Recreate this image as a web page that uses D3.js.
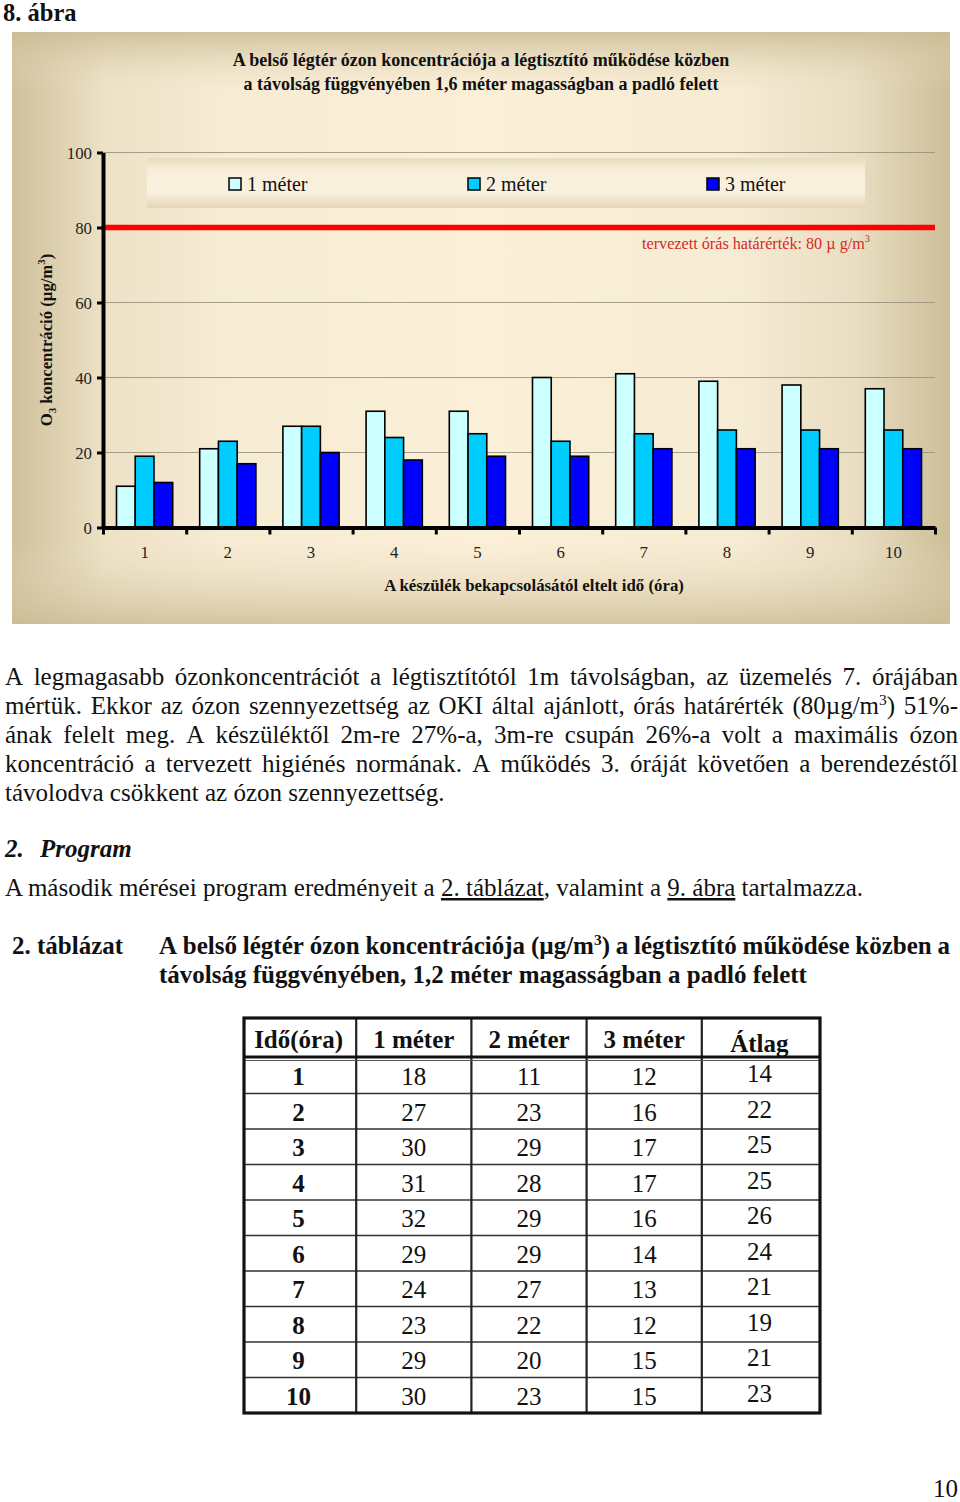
<!DOCTYPE html>
<html><head><meta charset="utf-8">
<script src="https://cdn.jsdelivr.net/npm/d3@7"></script>
<style>
html,body{margin:0;padding:0;background:#fff;}
svg{display:block;font-family:"Liberation Serif","Times New Roman",serif;}
</style></head>
<body>
<script>
// ---------- DATA ----------
const hours = [1,2,3,4,5,6,7,8,9,10];
const seriesNames = ["1 méter","2 méter","3 méter"];
const meter1 = [11,21,27,31,31,40,41,39,38,37];
const meter2 = [19,23,27,24,25,23,25,26,26,26];
const meter3 = [12,17,20,18,19,19,21,21,21,21];
const yTickValues = [0,20,40,60,80,100];
const limitValue = 80;
const seriesColors = ["#ccffff","#00ccff","#0000ff"];

const tableHeader = ["Idő(óra)","1 méter","2 méter","3 méter","Átlag"];
const tab1m = [18,27,30,31,32,29,24,23,29,30];
const tab2m = [11,23,29,28,29,29,27,22,20,23];
const tab3m = [12,16,17,17,16,14,13,12,15,15];
const tabAvg = [14,22,25,25,26,24,21,19,21,23];

const W = 960, H = 1502;
const FF = "Liberation Serif, Times New Roman, serif";
const svg = d3.select("body").append("svg").attr("width", W).attr("height", H).attr("font-family", FF);
svg.append("rect").attr("width", W).attr("height", H).attr("fill", "#fff");

const defs = svg.append("defs");
const gh = defs.append("linearGradient").attr("id","bgH").attr("x1",0).attr("x2",1).attr("y1",0).attr("y2",0);
[[0,"#cfc09b"],[0.1,"#ede2c6"],[0.22,"#f6ebd3"],[0.5,"#fbefd8"],[0.78,"#f6ebd3"],[0.9,"#e9dec2"],[1,"#cdbe98"]]
  .forEach(([o,c])=>gh.append("stop").attr("offset",o).attr("stop-color",c));
const gv = defs.append("linearGradient").attr("id","bgV").attr("x1",0).attr("x2",0).attr("y1",0).attr("y2",1);
[[0,"#cbbb95",0.85],[0.1,"#e8dcc0",0.0],[0.86,"#e8dcc0",0.0],[1,"#cbbb95",0.8]]
  .forEach(([o,c,a])=>gv.append("stop").attr("offset",o).attr("stop-color",c).attr("stop-opacity",a));
const gl = defs.append("linearGradient").attr("id","legG").attr("x1",0).attr("x2",0).attr("y1",0).attr("y2",1);
[[0,"#e9dcbd"],[0.25,"#f8efdb"],[0.7,"#faf1de"],[1,"#e3d5b3"]]
  .forEach(([o,c])=>gl.append("stop").attr("offset",o).attr("stop-color",c));

// ---------- Helpers ----------
function renderWord(t, w, fs){
  // ^x = superscript char, _x = subscript char
  const parts = w.split(/([\^_].)/).filter(s=>s.length);
  let pending = 0;
  parts.forEach(p=>{
    if(p[0]==="^" || p[0]==="_"){
      const s = p[0]==="^" ? -0.38*fs : 0.18*fs;
      t.append("tspan").attr("dy",s).attr("font-size",0.62*fs).text(p[1]);
      pending = s;
    } else {
      const ts = t.append("tspan").text(p);
      if(pending){ ts.attr("dy",-pending); pending = 0; }
    }
  });
}
function drawLine(g, line, x, yb, width, justify, attrs){
  const words = line.split(" ");
  const fs = parseFloat(attrs["font-size"]);
  const nodes = words.map(w=>{
    const t = g.append("text").attr("y", yb);
    Object.entries(attrs).forEach(([k,v])=>t.attr(k,v));
    renderWord(t,w,fs); return t;
  });
  const widths = nodes.map(n=>n.node().getComputedTextLength());
  const gap = justify ? (width - d3.sum(widths))/(words.length-1) : fs*0.25;
  let cx = x;
  nodes.forEach((n,i)=>{ n.attr("x",cx); cx += widths[i]+gap; });
}

// ---------- Figure label ----------
svg.append("text").attr("x",3).attr("y",21).attr("font-size",24.5).attr("font-weight","bold").attr("fill","#111").text("8. ábra");

// ---------- Chart panel ----------
const panel = {x:12,y:32,w:938,h:592};
svg.append("rect").attr("x",panel.x).attr("y",panel.y).attr("width",panel.w).attr("height",panel.h).attr("fill","url(#bgH)");
svg.append("rect").attr("x",panel.x).attr("y",panel.y).attr("width",panel.w).attr("height",panel.h).attr("fill","url(#bgV)");

const chartTitle = ["A belső légtér ózon koncentrációja a légtisztító működése közben","a távolság függvényében 1,6 méter magasságban a padló felett"];
svg.selectAll("text.ct").data(chartTitle).join("text").attr("class","ct")
  .attr("x",481).attr("y",(d,i)=>66+i*24).attr("text-anchor","middle")
  .attr("font-size",18).attr("font-weight","bold").attr("fill","#111").text(d=>d);

const plot = {l:103, r:935, t:152.5, b:527.5};
const y = d3.scaleLinear().domain([0,100]).range([plot.b, plot.t]);
const x0 = d3.scaleBand().domain(hours).range([plot.l, plot.r]).padding(0);
const x1 = d3.scaleBand().domain(seriesNames).range([0, x0.bandwidth()]).paddingInner(0).paddingOuter(0.72);
const xEdge = d3.scaleLinear().domain([0,hours.length]).range([plot.l, plot.r]);

// gridlines
svg.append("g").selectAll("line").data(yTickValues.filter(v=>v>0)).join("line")
  .attr("x1",plot.l).attr("x2",plot.r).attr("y1",d=>y(d)).attr("y2",d=>y(d))
  .attr("stroke","#8f8a78").attr("stroke-width",0.8);

// legend
const leg = svg.append("g");
leg.append("rect").attr("x",147).attr("y",158).attr("width",718).attr("height",50).attr("fill","url(#legG)");
const legX = d3.scalePoint().domain(seriesNames).range([229,707]);
const li = leg.selectAll("g").data(seriesNames).join("g").attr("transform",d=>`translate(${legX(d)},178)`);
li.append("rect").attr("width",12).attr("height",12).attr("fill",(d,i)=>seriesColors[i]).attr("stroke","#000").attr("stroke-width",1.5);
li.append("text").attr("x",18).attr("y",13).attr("font-size",20).attr("fill","#111").text(d=>d);

// limit line
svg.append("line").attr("x1",plot.l).attr("x2",plot.r).attr("y1",y(limitValue)).attr("y2",y(limitValue))
  .attr("stroke","#ff0000").attr("stroke-width",5.5);
const lt = svg.append("text").attr("x",642).attr("y",249).attr("font-size",16.2).attr("fill","#d42a2a");
lt.append("tspan").text("tervezett órás határérték: " + limitValue + " µ g/m");
lt.append("tspan").attr("dy",-7).attr("font-size",10.5).text("3");

// bars
const seriesData = [meter1, meter2, meter3];
const groups = svg.append("g").selectAll("g").data(hours).join("g")
  .attr("transform",d=>`translate(${x0(d)},0)`);
groups.selectAll("rect").data((h,i)=>seriesNames.map((s,j)=>({s, j, v:seriesData[j][i]}))).join("rect")
  .attr("x",d=>x1(d.s)).attr("width",x1.bandwidth())
  .attr("y",d=>y(d.v)).attr("height",d=>y(0)-y(d.v))
  .attr("fill",d=>seriesColors[d.j]).attr("stroke","#000").attr("stroke-width",1.6);

// y axis
const yAx = svg.append("g").attr("transform",`translate(${plot.l},0)`)
  .call(d3.axisLeft(y).tickValues(yTickValues).tickSize(6).tickSizeOuter(0).tickPadding(5));
yAx.select(".domain").attr("stroke","#000").attr("stroke-width",4);
yAx.selectAll(".tick line").attr("stroke","#000").attr("stroke-width",3);
yAx.selectAll(".tick text").attr("font-size",16.8).attr("fill","#222").attr("font-family",FF).attr("dy","0.33em");

// x axis (ticks at category boundaries, labels centered)
const xAx = svg.append("g").attr("transform",`translate(0,${plot.b})`)
  .call(d3.axisBottom(xEdge).tickValues(d3.range(0,hours.length+1)).tickSize(7).tickSizeOuter(0).tickFormat(""));
xAx.select(".domain").attr("stroke","#000").attr("stroke-width",4);
xAx.selectAll(".tick line").attr("stroke","#000").attr("stroke-width",3);
const xLab = svg.append("g").attr("transform",`translate(0,${plot.b})`)
  .call(d3.axisBottom(x0).tickSize(0).tickPadding(19));
xLab.select(".domain").remove();
xLab.selectAll(".tick text").attr("font-size",16.8).attr("fill","#222").attr("font-family",FF);

svg.append("text").attr("x",534).attr("y",591).attr("text-anchor","middle").attr("font-size",16.8)
  .attr("font-weight","bold").attr("fill","#111").text("A készülék bekapcsolásától eltelt idő (óra)");

const yt = svg.append("text").attr("transform","translate(52,340) rotate(-90)").attr("text-anchor","middle")
  .attr("font-size",16.7).attr("font-weight","bold").attr("fill","#111");
yt.append("tspan").text("O");
yt.append("tspan").attr("dy",4).attr("font-size",11).text("3");
yt.append("tspan").attr("dy",-4).text(" koncentráció (µg/m");
yt.append("tspan").attr("dy",-7).attr("font-size",11).text("3");
yt.append("tspan").attr("dy",7).text(")");

// ---------- Paragraph ----------
const para = [
  "A legmagasabb ózonkoncentrációt a légtisztítótól 1m távolságban, az üzemelés 7. órájában",
  "mértük. Ekkor az ózon szennyezettség az OKI által ajánlott, órás határérték (80µg/m^3) 51%-",
  "ának felelt meg. A készüléktől 2m-re 27%-a, 3m-re csupán 26%-a volt a maximális ózon",
  "koncentráció a tervezett higiénés normának. A működés 3. óráját követően a berendezéstől",
  "távolodva csökkent az ózon szennyezettség."
];
const pg = svg.append("g").attr("fill","#111");
para.forEach((l,i)=>drawLine(pg,l,5,685+i*29,953,i<para.length-1,{"font-size":25}));

svg.append("text").attr("x",5).attr("y",857).attr("font-size",25).attr("font-weight","bold").attr("font-style","italic")
  .attr("fill","#111").text("2.");
svg.append("text").attr("x",40).attr("y",857).attr("font-size",25).attr("font-weight","bold").attr("font-style","italic")
  .attr("fill","#111").text("Program");

const sl = svg.append("text").attr("x",5).attr("y",896).attr("font-size",25).attr("fill","#111");
sl.append("tspan").text("A második mérései program eredményeit a ");
sl.append("tspan").attr("text-decoration","underline").text("2. táblázat");
sl.append("tspan").text(", valamint a ");
sl.append("tspan").attr("text-decoration","underline").text("9. ábra");
sl.append("tspan").text(" tartalmazza.");

svg.append("text").attr("x",12).attr("y",954).attr("font-size",25).attr("font-weight","bold").attr("fill","#111").text("2. táblázat");
const tg = svg.append("g").attr("fill","#111");
drawLine(tg,"A belső légtér ózon koncentrációja (µg/m^3) a légtisztító működése közben a",159,954,791,true,{"font-size":25,"font-weight":"bold"});
drawLine(tg,"távolság függvényében, 1,2 méter magasságban a padló felett",159,983,0,false,{"font-size":25,"font-weight":"bold"});

// ---------- Table ----------
const tbl = {l:244, r:820, t:1018, hb:1058, b:1413};
const cx = d3.scaleBand().domain(tableHeader).range([tbl.l, tbl.r]);
const ry = d3.scaleBand().domain(hours).range([tbl.hb, tbl.b]);
const T = svg.append("g");
T.selectAll("line.r").data(hours.slice(1)).join("line").attr("class","r")
  .attr("x1",tbl.l).attr("x2",tbl.r).attr("y1",d=>ry(d)).attr("y2",d=>ry(d)).attr("stroke","#333").attr("stroke-width",1.6);
T.selectAll("line.c").data(tableHeader.slice(1)).join("line").attr("class","c")
  .attr("x1",d=>cx(d)-3).attr("x2",d=>cx(d)-3).attr("y1",tbl.t).attr("y2",tbl.b).attr("stroke","#222").attr("stroke-width",2.2);
T.append("line").attr("x1",tbl.l).attr("x2",tbl.r).attr("y1",tbl.hb-1).attr("y2",tbl.hb-1).attr("stroke","#111").attr("stroke-width",3);
T.append("line").attr("x1",tbl.l).attr("x2",tbl.r).attr("y1",tbl.hb+2.5).attr("y2",tbl.hb+2.5).attr("stroke","#555").attr("stroke-width",1);
T.append("rect").attr("x",tbl.l).attr("y",tbl.t).attr("width",tbl.r-tbl.l).attr("height",tbl.b-tbl.t)
  .attr("fill","none").attr("stroke","#111").attr("stroke-width",3.2);
T.selectAll("text.h").data(tableHeader).join("text").attr("class","h")
  .attr("x",d=>cx(d)+cx.bandwidth()/2-3).attr("y",(d,i)=>i===4?1052:1048).attr("text-anchor","middle")
  .attr("font-size",25).attr("font-weight","bold").attr("fill","#111").text(d=>d);
const tabCols = [hours, tab1m, tab2m, tab3m, tabAvg];
tabCols.forEach((col,ci)=>{
  T.selectAll("text.c"+ci).data(col).join("text").attr("class","c"+ci)
    .attr("x",cx(tableHeader[ci])+cx.bandwidth()/2-3)
    .attr("y",(d,i)=>ry(hours[i])+(ci===4?24:27)).attr("text-anchor","middle")
    .attr("font-size",25).attr("font-weight",ci===0?"bold":"normal").attr("fill","#111").text(d=>d);
});

// page number
svg.append("text").attr("x",958).attr("y",1497).attr("text-anchor","end").attr("font-size",25).attr("fill","#111").text("10");
</script>
</body></html>
